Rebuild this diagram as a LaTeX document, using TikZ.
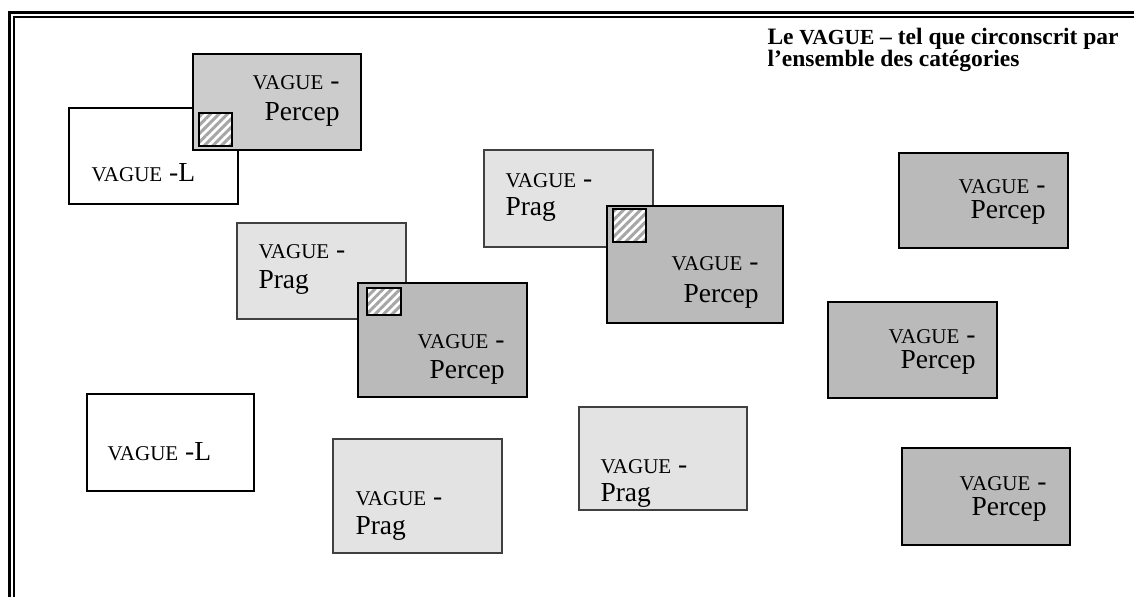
\documentclass[tikz,border=0pt]{standalone}
\usepackage{fontspec}
\setmainfont{Liberation Serif}
\usetikzlibrary{patterns.meta}

\definecolor{percepgray}{gray}{0.73}
\definecolor{perceplite}{gray}{0.80}
\definecolor{praggray}{gray}{0.89}
\definecolor{pragline}{gray}{0.25}

\newcommand{\vg}{{\fontsize{8.4}{10}\selectfont VAGUE}}

\begin{document}
\begin{tikzpicture}[x=0.4pt,y=-0.4pt,
  percepbox/.style={draw=black,line width=0.5pt,fill=percepgray},
  pragbox/.style={draw=pragline,line width=0.5pt,fill=praggray},
  lbox/.style={draw=black,line width=0.5pt,fill=white},
  hatchbox/.style={draw=black,line width=0.6pt,preaction={fill=white},
    pattern={Lines[angle=45,distance=2.4pt,line width=1.2pt]},pattern color=gray!70},
  txl/.style={anchor=base west,font=\fontsize{11}{13}\selectfont},
  txr/.style={anchor=base east,font=\fontsize{11}{13}\selectfont}]
\tikzstyle{every node}+=[inner sep=0pt]
\useasboundingbox (0,0) rectangle (1134,596);
% double frame
\draw [black,line width=1.2pt] (9,600) -- (9,12) -- (1140,12);
\draw [black,line width=0.8pt] (14,600) -- (14,17) -- (1140,17);
% title
\node [anchor=base west,font=\fontsize{9.4}{11}\selectfont\bfseries] (title) at (767,44)
  {Le {\fontsize{8.6}{10}\selectfont VAGUE} – tel que circonscrit par};
\node [anchor=base west,font=\fontsize{9.4}{11}\selectfont\bfseries] (title2) at (767,66)
  {l’ensemble des catégories};
% top left pair
\draw [lbox] (69,108) rectangle (238,204);
\draw (91,181) node [txl] (l1) {\vg\ -L};
\draw [percepbox,fill=perceplite] (193,54) rectangle (361,150);
\draw [hatchbox] (199,113) rectangle (232,146);
\draw (340,89) node [txr] (p1a) {\vg\ -};
\draw (340,120) node [txr] (p1b) {Percep};
% middle left pair
\draw [pragbox] (237,223) rectangle (406,319);
\draw (258,258) node [txl] (g1a) {\vg\ -};
\draw (258,288) node [txl] (g1b) {Prag};
\draw [percepbox] (358,283) rectangle (527,397);
\draw [hatchbox] (367,288) rectangle (401,315);
\draw (505,348) node [txr] (p2a) {\vg\ -};
\draw (505,378) node [txr] (p2b) {Percep};
% centre pair
\draw [pragbox] (484,150) rectangle (653,247);
\draw (505,187) node [txl] (g2a) {\vg\ -};
\draw (505,215) node [txl] (g2b) {Prag};
\draw [percepbox] (607,206) rectangle (783,323);
\draw [hatchbox] (613,209) rectangle (646,242);
\draw (759,270) node [txr] (p3a) {\vg\ -};
\draw (759,302) node [txr] (p3b) {Percep};
% right column
\draw [percepbox] (899,153) rectangle (1068,248);
\draw (1046,193) node [txr] (p4a) {\vg\ -};
\draw (1046,218) node [txr] (p4b) {Percep};
\draw [percepbox] (828,302) rectangle (997,398);
\draw (976,343) node [txr] (p5a) {\vg\ -};
\draw (976,368) node [txr] (p5b) {Percep};
\draw [percepbox] (902,448) rectangle (1070,545);
\draw (1047,490) node [txr] (p6a) {\vg\ -};
\draw (1047,515) node [txr] (p6b) {Percep};
% bottom row
\draw [lbox] (87,394) rectangle (254,491);
\draw (107,460) node [txl] (l2) {\vg\ -L};
\draw [pragbox] (333,439) rectangle (502,553);
\draw (355,505) node [txl] (g3a) {\vg\ -};
\draw (355,534) node [txl] (g3b) {Prag};
\draw [pragbox] (579,407) rectangle (747,510);
\draw (600,473) node [txl] (g4a) {\vg\ -};
\draw (600,501) node [txl] (g4b) {Prag};
\end{tikzpicture}
\end{document}
